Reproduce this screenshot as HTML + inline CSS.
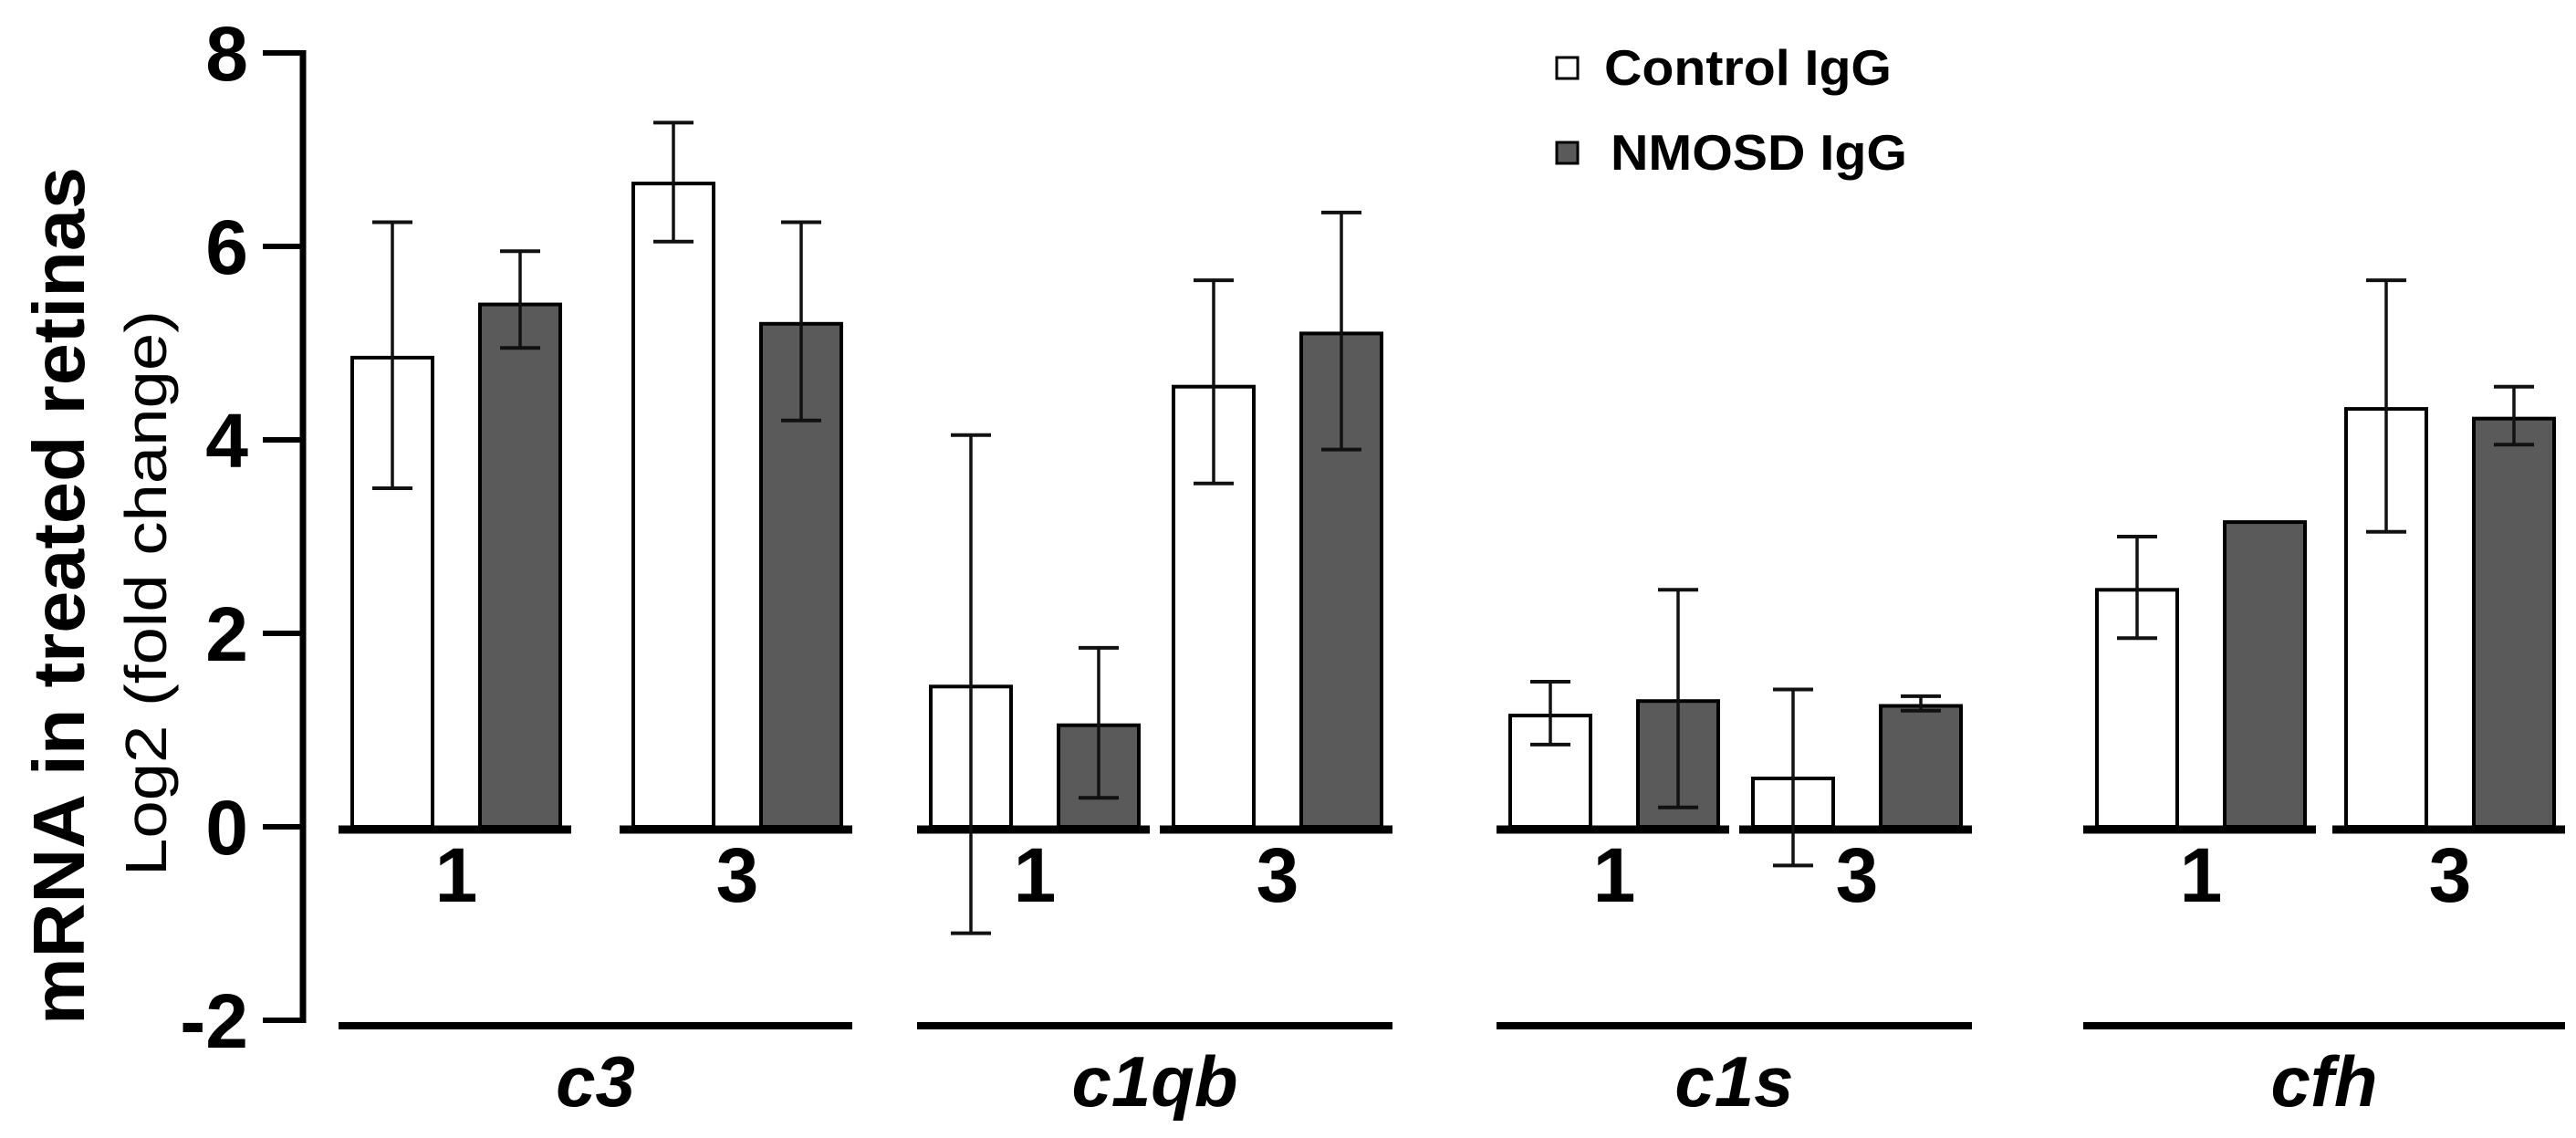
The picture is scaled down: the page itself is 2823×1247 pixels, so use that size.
<!DOCTYPE html>
<html><head><meta charset="utf-8"><style>
html,body{margin:0;padding:0;background:#fff;}
svg{display:block;font-family:"Liberation Sans",Arial,sans-serif;}
</style></head><body>
<svg id="chart" width="2823" height="1247" viewBox="0 0 2823 1247" xmlns="http://www.w3.org/2000/svg"></svg>
<script>
const genes = ["c3","c1qb","c1s","cfh"];
const timepoints = ["1","3"];
const controlMean = [4.85, 6.65, 1.45, 4.55, 1.15, 0.5, 2.45, 4.32];
const controlLow  = [3.5, 6.05, -1.1, 3.55, 0.85, -0.4, 1.95, 3.05];
const controlHigh = [6.25, 7.28, 4.05, 5.65, 1.5, 1.42, 3.0, 5.65];
const nmoMean = [5.4, 5.2, 1.05, 5.1, 1.3, 1.25, 3.15, 4.22];
const nmoLow  = [4.95, 4.2, 0.3, 3.9, 0.2, 1.2, 3.15, 3.95];
const nmoHigh = [5.95, 6.25, 1.85, 6.35, 2.45, 1.35, 3.15, 4.55];
const yTicks = [-2, 0, 2, 4, 6, 8];

const NS = "http://www.w3.org/2000/svg";
const svg = document.getElementById("chart");
function y(v){ return 906 - v * 106; }
const groupStart = [386, 1020, 1655, 2298];
const groupTimeOffset = [308, 266, 266, 273];
const barW = 88, pairGap = 140;
function mk(tag, attrs){ const e = document.createElementNS(NS, tag); for (const k in attrs) e.setAttribute(k, attrs[k]); svg.appendChild(e); return e; }

let ax = mk("line",{x1:332,y1:y(8)-3,x2:332,y2:y(-2)+3,stroke:"#000","stroke-width":7});


yTicks.forEach(t=>{
  const tk = mk("line",{x1:288,y1:y(t),x2:335,y2:y(t),stroke:"#000","stroke-width":6});
  
  
  const lb = mk("text",{x:272,y:y(t)+30,"text-anchor":"end","font-size":84,"font-weight":"bold"});
  lb.textContent = t;
  
  
});
let t1 = mk("text",{x:0,y:0,"text-anchor":"middle","font-size":80,"font-weight":"bold",textLength:940,lengthAdjust:"spacingAndGlyphs",transform:"translate(92,653) rotate(-90)"});
t1.textContent = "mRNA in treated retinas";


let t2 = mk("text",{x:0,y:0,"text-anchor":"middle","font-size":64,textLength:620,lengthAdjust:"spacingAndGlyphs",transform:"translate(182,650) rotate(-90)"});
t2.textContent = "Log2 (fold change)";



function errbar(cx, lo, hi){
  if (hi - lo < 0.01) return;
  const l = mk("line",{x1:cx,y1:y(hi),x2:cx,y2:y(lo),stroke:"#111","stroke-width":3.5});
  
  
  [lo,hi].forEach(v=>{
    const c = mk("line",{x1:cx-22,y1:y(v),x2:cx+22,y2:y(v),stroke:"#111","stroke-width":4});
    
    
  });
}

genes.forEach((g, gi)=>{
  timepoints.forEach((tp, ti)=>{
    const i = gi*2 + ti;
    const x0 = groupStart[gi] + ti * groupTimeOffset[gi];
    const b1 = mk("rect",{x:x0,y:y(controlMean[i]),width:barW,height:y(0)-y(controlMean[i]),fill:"#fff",stroke:"#000","stroke-width":4});
    
    
    const b2 = mk("rect",{x:x0+pairGap,y:y(nmoMean[i]),width:barW,height:y(0)-y(nmoMean[i]),fill:"#5a5a5a",stroke:"#000","stroke-width":4});
    
    
    const base = mk("line",{x1:x0-15,y1:y(0)+3,x2:x0+pairGap+barW+12,y2:y(0)+3,stroke:"#000","stroke-width":9});
    
    
    errbar(x0+barW/2, controlLow[i], controlHigh[i]);
    errbar(x0+pairGap+barW/2, nmoLow[i], nmoHigh[i]);
    const lb = mk("text",{x:x0+(pairGap+barW)/2,y:988,"text-anchor":"middle","font-size":84,"font-weight":"bold"});
    lb.textContent = tp;
    
    
  });
  const gx1 = groupStart[gi]-15, gx2 = groupStart[gi]+groupTimeOffset[gi]+pairGap+barW+12;
  const ul = mk("line",{x1:gx1,y1:1124,x2:gx2,y2:1124,stroke:"#000","stroke-width":8});
  
  
  const gl = mk("text",{x:(gx1+gx2)/2,y:1212,"text-anchor":"middle","font-size":78,"font-weight":"bold","font-style":"italic"});
  gl.textContent = g;
  
  
});

const lg = [["Control IgG","#fff",315],["NMOSD IgG","#5a5a5a",325]];
lg.forEach((e,i)=>{
  const yy = 74 + i*93;
  const s = mk("rect",{x:1706,y:yy-11,width:23,height:23,fill:e[1],stroke:"#000","stroke-width":3});
  
  
  const t = mk("text",{x:1758 + i*7,y:yy+19,"font-size":55,"font-weight":"bold",textLength:e[2],lengthAdjust:"spacingAndGlyphs"});
  t.textContent = e[0];
  
  
});
</script>
</body></html>
